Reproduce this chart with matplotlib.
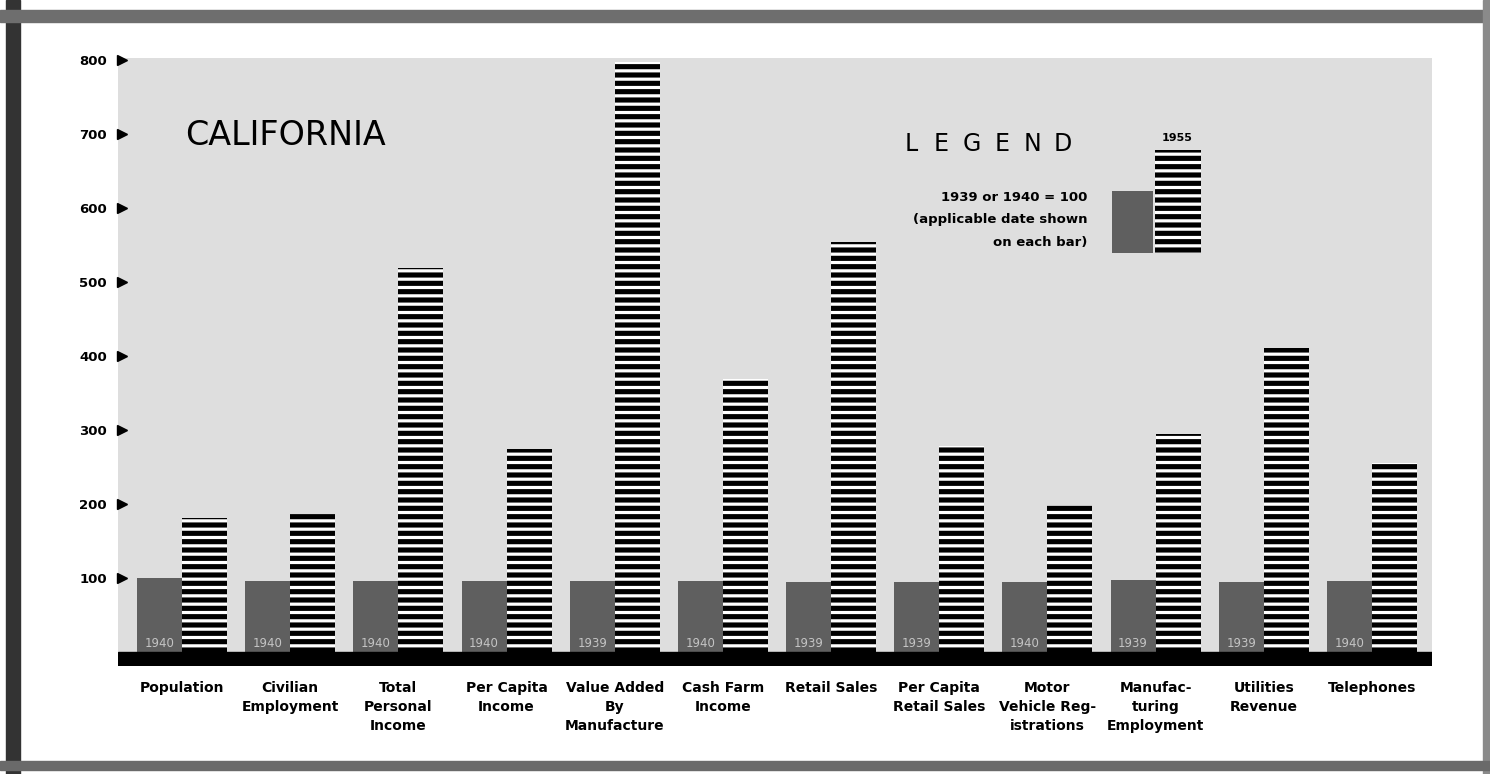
import numpy as np
import matplotlib.pyplot as plt
from matplotlib.patches import Rectangle

# data (index, 1939 or 1940 = 100)
categories = ['Population', 'Civilian\nEmployment', 'Total\nPersonal\nIncome',
              'Per Capita\nIncome', 'Value Added\nBy\nManufacture', 'Cash Farm\nIncome',
              'Retail Sales', 'Per Capita\nRetail Sales', 'Motor\nVehicle Reg-\nistrations',
              'Manufac-\nturing\nEmployment', 'Utilities\nRevenue', 'Telephones']
base_years = ['1940', '1940', '1940', '1940', '1939', '1940',
              '1939', '1939', '1940', '1939', '1939', '1940']
base_values = [100, 96, 96, 96, 96, 96, 95, 94, 95, 97, 94, 96]
values_1955 = [181, 187, 519, 274, 797, 369, 554, 279, 199, 295, 411, 255]
y_ticks = [100, 200, 300, 400, 500, 600, 700, 800]

plt.rcParams['hatch.linewidth'] = 2.3
plt.rcParams['hatch.color'] = 'white'

panel = '#dedede'
dark = '#5f5f5f'

fig = plt.figure(figsize=(14.9, 7.74), dpi=100)
fig.patch.set_facecolor('white')

# scanned page border
fig.patches.append(Rectangle((6/1490, 0), 14/1490, 1, transform=fig.transFigure, color='#333333', zorder=0))
fig.patches.append(Rectangle((0, 1 - 22/774), 1, 12/774, transform=fig.transFigure, color='#6e6e6e', zorder=0))
fig.patches.append(Rectangle((1483/1490, 0), 7/1490, 1, transform=fig.transFigure, color='#8a8a8a', zorder=0))
fig.patches.append(Rectangle((0, 4/774), 1, 9/774, transform=fig.transFigure, color='#6a6a6a', zorder=0))

ax = fig.add_axes([118/1490, 108/774, 1314/1490, 608/774])
ax.set_facecolor(panel)

x = np.arange(len(categories))
w = 0.416

ax.bar(x - w/2, base_values, width=w, color=dark, linewidth=0, zorder=2)
ax.bar(x + w/2, values_1955, width=w, color='black', edgecolor='white', linewidth=0,
       hatch='--', zorder=2)

for xi, yr in zip(x, base_years):
    ax.text(xi - w/2, 12, yr, ha='center', va='center', fontsize=8.5, color='#c4c4c4', zorder=3)

# black base strip
ax.axhspan(-19, 0, color='black', zorder=3)

ax.set_xlim(-0.5915, 11.555)
ax.set_ylim(-19, 802.7)
for s in ax.spines.values():
    s.set_visible(False)

ax.set_xticks(x, categories, fontsize=10, fontweight='bold', linespacing=1.45)
ax.tick_params(axis='x', length=0, pad=11)
ax.set_yticks(y_ticks, [str(t) for t in y_ticks], fontsize=9.5, fontweight='bold')
ax.tick_params(axis='y', length=0, pad=8)

# triangle pointers at tick positions
ax.plot([0.003] * len(y_ticks), y_ticks, linestyle='none', marker='>', markersize=7,
        color='black', transform=ax.get_yaxis_transform(), clip_on=False, zorder=4)

ax.text(0.051, 0.873, 'CALIFORNIA', transform=ax.transAxes, fontsize=24, ha='left', va='center')

for k, ch in enumerate('LEGEND'):
    ax.text(0.6035 + k * 0.02314, 0.859, ch, transform=ax.transAxes, fontsize=17,
            ha='center', va='center')

ax.text(0.738, 0.770, '1939 or 1940 = 100', transform=ax.transAxes, fontsize=9.5,
        fontweight='bold', ha='right', va='center')
ax.text(0.738, 0.734, '(applicable date shown', transform=ax.transAxes, fontsize=9.5,
        fontweight='bold', ha='right', va='center')
ax.text(0.738, 0.697, 'on each bar)', transform=ax.transAxes, fontsize=9.5,
        fontweight='bold', ha='right', va='center')

ax.add_patch(Rectangle((0.7565, 0.679), 0.0312, 0.102, transform=ax.transAxes,
                       facecolor=dark, linewidth=0, zorder=2))
ax.add_patch(Rectangle((0.789, 0.679), 0.035, 0.169, transform=ax.transAxes,
                       facecolor='black', edgecolor='white', linewidth=0, hatch='--', zorder=2))
ax.text(0.806, 0.868, '1955', transform=ax.transAxes, fontsize=8, fontweight='bold',
        ha='center', va='center')

fig.savefig('out.png', dpi=100)
